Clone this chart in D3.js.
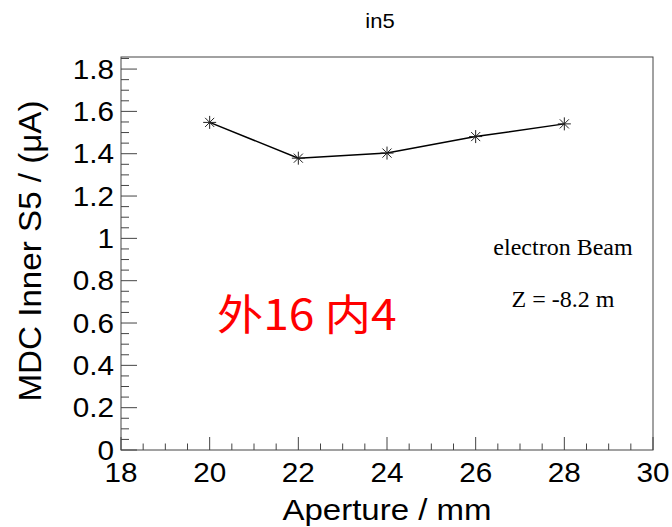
<!DOCTYPE html>
<html lang="en">
<head>
  <meta charset="UTF-8">
  <title>in5</title>
  <script src="https://d3js.org/d3.v7.min.js"></script>
  <style>
    body { margin: 0; background: #fff; }
    svg { display: block; }
    text { font-family: "Liberation Sans", Arial, sans-serif; fill: #000; }
  </style>
</head>
<body>
  <script>
    // data
    const aperture = [20, 22, 24, 26, 28];
    const current = [1.548, 1.379, 1.403, 1.481, 1.541];
    const xTicks = [18, 20, 22, 24, 26, 28, 30];
    const yTicks = [0, 0.2, 0.4, 0.6, 0.8, 1, 1.2, 1.4, 1.6, 1.8];
    const yTickLabels = ["0", "0.2", "0.4", "0.6", "0.8", "1", "1.2", "1.4", "1.6", "1.8"];

    const width = 672, height = 527;
    const frame = { left: 121, right: 653, top: 57, bottom: 450 };

    const svg = d3.select("body").append("svg")
      .attr("width", width)
      .attr("height", height);

    const x = d3.scaleLinear().domain([18, 30]).range([frame.left, frame.right]);
    const y = d3.scaleLinear().domain([0, 1.857]).range([frame.bottom, frame.top]);

    // text with a little horizontal stretch, like the ROOT fonts
    function label(px, py, str, size, sx, anchor, rot) {
      return svg.append("text")
        .attr("transform", `translate(${px},${py}) rotate(${rot || 0}) scale(${sx},1)`)
        .attr("text-anchor", anchor)
        .style("font-size", size + "px")
        .text(str);
    }

    // frame
    svg.append("rect")
      .attr("x", frame.left).attr("y", frame.top)
      .attr("width", frame.right - frame.left)
      .attr("height", frame.bottom - frame.top)
      .attr("fill", "none")
      .attr("stroke", "#444")
      .attr("stroke-width", 1);

    // x ticks
    const xMinor = d3.range(18, 30.001, 0.5);
    svg.append("g").selectAll("line").data(xMinor).join("line")
      .attr("x1", d => x(d)).attr("x2", d => x(d))
      .attr("y1", frame.bottom)
      .attr("y2", d => frame.bottom - (d % 2 === 0 ? 13 : 6.5))
      .attr("stroke", "#444");

    // y ticks
    const yMinor = d3.range(0, 1.86, 0.05);
    svg.append("g").selectAll("line").data(yMinor).join("line")
      .attr("y1", d => y(d)).attr("y2", d => y(d))
      .attr("x1", frame.left)
      .attr("x2", (d, i) => frame.left + (i % 4 === 0 ? 16 : 8))
      .attr("stroke", "#444");

    xTicks.forEach(t => label(x(t), 482, String(t), 27, 1.1, "middle"));
    yTicks.forEach((t, i) => label(114, y(t) + 9.5, yTickLabels[i], 27, 1.1, "end"));

    // axis titles
    label((frame.left + frame.right) / 2, 520, "Aperture / mm", 30, 1.1, "middle");
    label(41, 251, "MDC Inner S5 / (\u03bcA)", 31, 1.07, "middle", -90);

    // title
    label(380, 28, "in5", 20, 1.1, "middle");

    // line + asterisk markers
    const pts = aperture.map((a, i) => [a, current[i]]);
    svg.append("path")
      .datum(pts)
      .attr("fill", "none")
      .attr("stroke", "#000")
      .attr("stroke-width", 1.5)
      .attr("d", d3.line().x(d => x(d[0])).y(d => y(d[1])));

    const r = 6.5;
    const star = `M${-r},0H${r}M0,${-r}V${r}M${-r * 0.7},${-r * 0.7}L${r * 0.7},${r * 0.7}M${-r * 0.7},${r * 0.7}L${r * 0.7},${-r * 0.7}`;
    svg.append("g").selectAll("path").data(pts).join("path")
      .attr("transform", d => `translate(${x(d[0])},${y(d[1])})`)
      .attr("d", star)
      .attr("stroke", "#222")
      .attr("stroke-width", 1);

    // annotations
    svg.append("text")
      .attr("x", 563).attr("y", 255)
      .attr("text-anchor", "middle")
      .style("font-family", "'Liberation Serif', 'Times New Roman', serif")
      .style("font-size", "24px")
      .text("electron Beam");
    svg.append("text")
      .attr("x", 563).attr("y", 307)
      .attr("text-anchor", "middle")
      .style("font-family", "'Liberation Serif', 'Times New Roman', serif")
      .style("font-size", "24px")
      .text("Z = -8.2 m");

    svg.append("text")
      .attr("transform", "translate(217,330) scale(1.1,1)")
      .style("font-family", "'Noto Sans CJK SC', sans-serif")
      .style("font-size", "42px")
      .style("fill", "#ff0000")
      .text("外16 内4");
  </script>
</body>
</html>
